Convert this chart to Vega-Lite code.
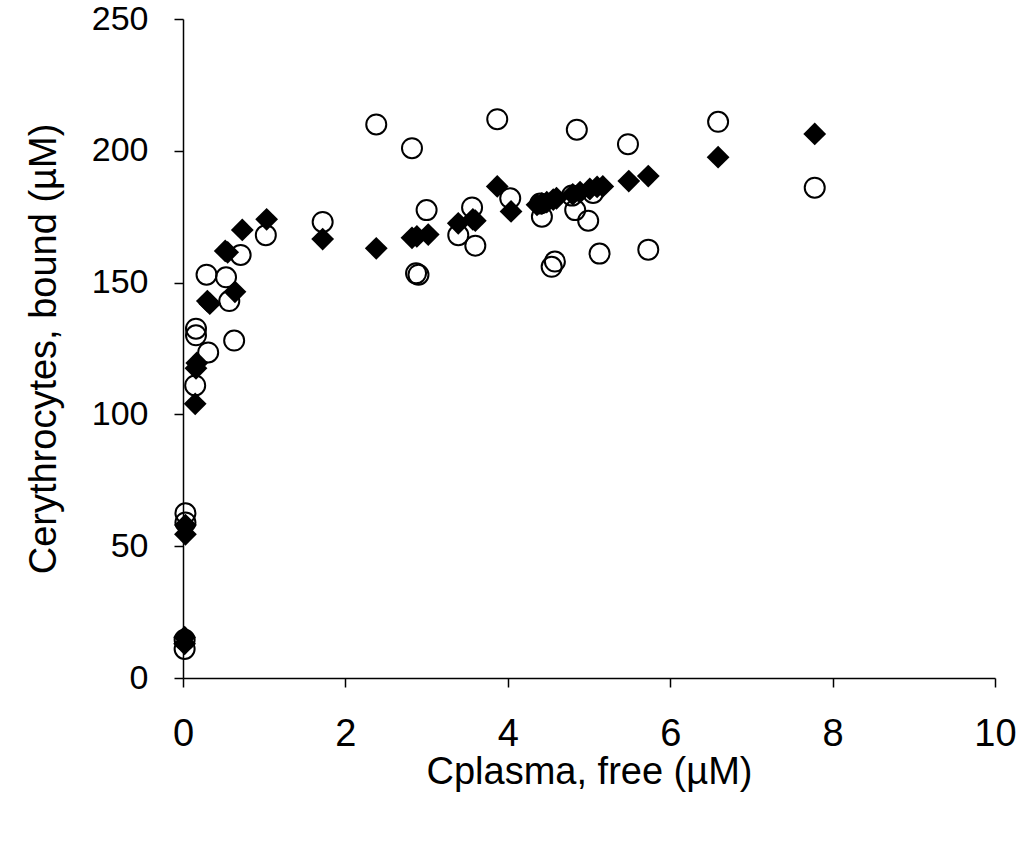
{
  "$schema": "https://vega.github.io/schema/vega-lite/v6.json",
  "width": 812,
  "height": 659,
  "autosize": "none",
  "padding": {"left": 183, "top": 19, "right": 30, "bottom": 178},
  "background": "white",
  "config": {
    "view": {"stroke": null}
  },
  "data": {
    "values": [
      {"s": "filled", "x": 0.02, "y": 13},
      {"s": "filled", "x": 0.02, "y": 15.5},
      {"s": "filled", "x": 0.03, "y": 54.5},
      {"s": "filled", "x": 0.03, "y": 58},
      {"s": "filled", "x": 0.15, "y": 104},
      {"s": "filled", "x": 0.16, "y": 117.5},
      {"s": "filled", "x": 0.17, "y": 119.5},
      {"s": "filled", "x": 0.3, "y": 143},
      {"s": "filled", "x": 0.33, "y": 142},
      {"s": "filled", "x": 0.52, "y": 162},
      {"s": "filled", "x": 0.55, "y": 161.5},
      {"s": "filled", "x": 0.64, "y": 146.5},
      {"s": "filled", "x": 0.73, "y": 170},
      {"s": "filled", "x": 1.03, "y": 174},
      {"s": "filled", "x": 1.72, "y": 166.5},
      {"s": "filled", "x": 2.38, "y": 163},
      {"s": "filled", "x": 2.82, "y": 167},
      {"s": "filled", "x": 2.88, "y": 167.5},
      {"s": "filled", "x": 3.02, "y": 168.2},
      {"s": "filled", "x": 3.39, "y": 172.5},
      {"s": "filled", "x": 3.57, "y": 174},
      {"s": "filled", "x": 3.6, "y": 173.5},
      {"s": "filled", "x": 3.87, "y": 186.5},
      {"s": "filled", "x": 4.04, "y": 177},
      {"s": "filled", "x": 4.36, "y": 179.5},
      {"s": "filled", "x": 4.42, "y": 180},
      {"s": "filled", "x": 4.48, "y": 180.5},
      {"s": "filled", "x": 4.56, "y": 181.5},
      {"s": "filled", "x": 4.6, "y": 182},
      {"s": "filled", "x": 4.8, "y": 183.5},
      {"s": "filled", "x": 4.89, "y": 184.3},
      {"s": "filled", "x": 5.01, "y": 185.5},
      {"s": "filled", "x": 5.1, "y": 186.3},
      {"s": "filled", "x": 5.17, "y": 186.5},
      {"s": "filled", "x": 5.49, "y": 188.5},
      {"s": "filled", "x": 5.73, "y": 190.4},
      {"s": "filled", "x": 6.59, "y": 197.6},
      {"s": "filled", "x": 7.78, "y": 206.4},
      {"s": "open", "x": 0.02, "y": 11},
      {"s": "open", "x": 0.02, "y": 14.5},
      {"s": "open", "x": 0.03, "y": 59},
      {"s": "open", "x": 0.03, "y": 62.5},
      {"s": "open", "x": 0.15, "y": 111},
      {"s": "open", "x": 0.16, "y": 130},
      {"s": "open", "x": 0.16, "y": 132.5},
      {"s": "open", "x": 0.31, "y": 123.5},
      {"s": "open", "x": 0.29, "y": 153},
      {"s": "open", "x": 0.53, "y": 152},
      {"s": "open", "x": 0.57, "y": 143},
      {"s": "open", "x": 0.63, "y": 128},
      {"s": "open", "x": 0.71, "y": 160.5},
      {"s": "open", "x": 1.02, "y": 168},
      {"s": "open", "x": 1.72, "y": 173},
      {"s": "open", "x": 2.38, "y": 210},
      {"s": "open", "x": 2.82, "y": 201},
      {"s": "open", "x": 2.87, "y": 153.5},
      {"s": "open", "x": 2.9, "y": 153},
      {"s": "open", "x": 3.0, "y": 177.5},
      {"s": "open", "x": 3.39, "y": 168},
      {"s": "open", "x": 3.56, "y": 178.5},
      {"s": "open", "x": 3.6, "y": 164},
      {"s": "open", "x": 3.87, "y": 212},
      {"s": "open", "x": 4.03, "y": 182},
      {"s": "open", "x": 4.4, "y": 180},
      {"s": "open", "x": 4.42, "y": 175},
      {"s": "open", "x": 4.54, "y": 156},
      {"s": "open", "x": 4.58, "y": 158},
      {"s": "open", "x": 4.79, "y": 183},
      {"s": "open", "x": 4.83, "y": 177.5},
      {"s": "open", "x": 4.85, "y": 208},
      {"s": "open", "x": 4.99, "y": 173.5},
      {"s": "open", "x": 5.05, "y": 184},
      {"s": "open", "x": 5.13, "y": 161},
      {"s": "open", "x": 5.48, "y": 202.5},
      {"s": "open", "x": 5.73, "y": 162.5},
      {"s": "open", "x": 6.59, "y": 211},
      {"s": "open", "x": 7.78, "y": 186}
    ]
  },
  "encoding": {
    "x": {
      "field": "x",
      "type": "quantitative",
      "scale": {"domain": [0, 10], "nice": false, "zero": true},
      "axis": {
        "values": [0, 2, 4, 6, 8, 10],
        "grid": false,
        "domainColor": "black",
        "domainWidth": 1.5,
        "tickColor": "black",
        "tickWidth": 1.5,
        "tickSize": 9,
        "labelFont": "Liberation Sans",
        "labelFontSize": 38,
        "labelColor": "black",
        "labelPadding": 28,
        "labelFlush": false,
        "labelOverlap": false,
        "title": "Cplasma, free (µM)",
        "titleFont": "Liberation Sans",
        "titleFontWeight": "normal",
        "titleColor": "black",
        "titleFontSize": 38,
        "titlePadding": 0
      }
    },
    "y": {
      "field": "y",
      "type": "quantitative",
      "scale": {"domain": [0, 250], "nice": false},
      "axis": {
        "values": [0, 50, 100, 150, 200, 250],
        "grid": false,
        "domainColor": "black",
        "domainWidth": 1.5,
        "tickColor": "black",
        "tickWidth": 1.5,
        "tickSize": 9,
        "labelFont": "Liberation Sans",
        "labelFontSize": 34,
        "labelColor": "black",
        "labelPadding": 26,
        "labelFlush": false,
        "labelOverlap": false,
        "title": "Cerythrocytes, bound (µM)",
        "titleFont": "Liberation Sans",
        "titleFontWeight": "normal",
        "titleColor": "black",
        "titleFontSize": 38,
        "titlePadding": 28
      }
    }
  },
  "layer": [
    {
      "transform": [{"filter": "datum.s === 'open'"}],
      "mark": {"type": "point", "shape": "circle", "filled": false, "stroke": "black", "strokeWidth": 2, "size": 400, "opacity": 1}
    },
    {
      "transform": [{"filter": "datum.s === 'filled'"}],
      "mark": {"type": "point", "shape": "diamond", "filled": true, "fill": "black", "size": 520, "opacity": 1}
    }
  ]
}
